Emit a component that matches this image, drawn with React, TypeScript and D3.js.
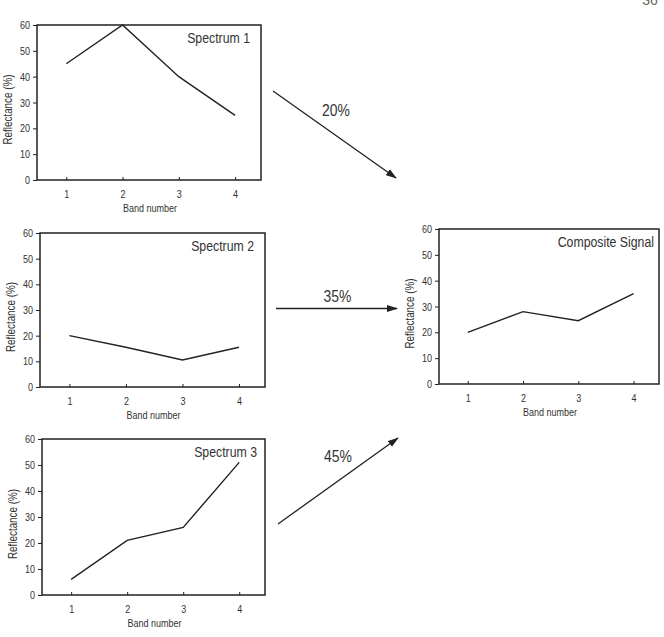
import React, { useEffect, useRef } from "react";
import * as d3 from "d3";

const bands = [1, 2, 3, 4];
const spectrum1 = [45, 60, 40, 25];
const spectrum2 = [20, 15.5, 10.5, 15.5];
const spectrum3 = [6, 21, 26, 51];
const composite = [20, 28, 24.5, 35];
const yTicks = [0, 10, 20, 30, 40, 50, 60];
const weightLabels = ["20%", "35%", "45%"];

const FONT = "'Liberation Sans', Arial, sans-serif";
const NARROW = 0.82; // squeeze Arial into an Arial Narrow look
const INK = "#222";

type Panel = {
  title: string;
  values: number[];
  box: { x0: number; x1: number; y0: number; y1: number };
  titlePad: number;
};

const panels: Panel[] = [
  { title: "Spectrum 1", values: spectrum1, box: { x0: 37, x1: 261, y0: 25, y1: 180 }, titlePad: 11 },
  { title: "Spectrum 2", values: spectrum2, box: { x0: 40, x1: 265, y0: 233, y1: 387 }, titlePad: 11 },
  { title: "Spectrum 3", values: spectrum3, box: { x0: 42, x1: 265, y0: 439, y1: 595 }, titlePad: 8 },
  { title: "Composite Signal", values: composite, box: { x0: 439, x1: 659, y0: 229, y1: 384 }, titlePad: 5 },
];

// arrows from each spectrum into the composite panel
const arrows = [
  { from: [273, 91], to: [396, 178], label: [336, 116] },
  { from: [276, 308.5], to: [397, 308.5], label: [337.5, 302] },
  { from: [278, 524], to: [398, 438], label: [338, 462] },
];

function narrowText(
  g: d3.Selection<SVGGElement, unknown, null, undefined>,
  x: number,
  y: number,
  text: string,
  size: number,
  anchor = "start",
  rotate = 0
) {
  return g
    .append("text")
    .attr("transform", `translate(${x},${y}) rotate(${rotate}) scale(${NARROW},1)`)
    .attr("text-anchor", anchor)
    .attr("font-family", FONT)
    .attr("font-size", size)
    .attr("fill", "#333")
    .text(text);
}

function App() {
  const ref = useRef<SVGSVGElement>(null);

  useEffect(() => {
    const svg = d3.select(ref.current);
    svg.selectAll("*").remove();

    svg
      .append("defs")
      .append("marker")
      .attr("id", "head")
      .attr("markerUnits", "userSpaceOnUse")
      .attr("markerWidth", 11)
      .attr("markerHeight", 8)
      .attr("refX", 10)
      .attr("refY", 4)
      .attr("orient", "auto")
      .append("path")
      .attr("d", "M0,0.5 L11,4 L0,7.5 Z")
      .attr("fill", INK);

    const root = svg.append("g") as unknown as d3.Selection<SVGGElement, unknown, null, undefined>;

    panels.forEach((p) => {
      const { x0, x1, y0, y1 } = p.box;
      const x = d3.scaleLinear().domain([0.48, 4.46]).range([x0, x1]);
      const y = d3.scaleLinear().domain([0, 60]).range([y1, y0]);
      const g = root.append("g");

      // left axis with outside ticks
      const ya = g
        .append("g")
        .attr("transform", `translate(${x0},0)`)
        .call(d3.axisLeft(y).tickValues(yTicks).tickSizeInner(4).tickSizeOuter(0).tickFormat(d3.format("d")));
      ya.select(".domain").remove();
      ya.selectAll("line").attr("stroke", INK);
      ya.selectAll("text")
        .attr("x", null)
        .attr("transform", `translate(-7,0) scale(${NARROW},1)`)
        .attr("font-family", FONT)
        .attr("font-size", 11)
        .attr("fill", "#333");

      // bottom axis with small inward ticks
      const xa = g
        .append("g")
        .attr("transform", `translate(0,${y1})`)
        .call(d3.axisBottom(x).tickValues(bands).tickSizeInner(-3).tickSizeOuter(0).tickPadding(10).tickFormat(d3.format("d")));
      xa.select(".domain").remove();
      xa.selectAll("line").attr("stroke", INK);
      xa.selectAll("text")
        .attr("transform", `scale(${NARROW},1)`)
        .attr("x", function (d) {
          return 0;
        })
        .attr("font-family", FONT)
        .attr("font-size", 11)
        .attr("fill", "#333");

      // frame
      g.append("rect")
        .attr("x", x0)
        .attr("y", y0)
        .attr("width", x1 - x0)
        .attr("height", y1 - y0)
        .attr("fill", "none")
        .attr("stroke", INK)
        .attr("stroke-width", 1.5);

      // spectrum line
      const line = d3
        .line<number>()
        .x((_, i) => x(bands[i]))
        .y((v) => y(v));
      g.append("path")
        .attr("d", line(p.values))
        .attr("fill", "none")
        .attr("stroke", INK)
        .attr("stroke-width", 1.4)
        .attr("stroke-linejoin", "miter");

      narrowText(g, x1 - p.titlePad, y0 + 17.5, p.title, 15, "end");
      narrowText(g, (x0 + x1) / 2 + 1, y1 + 32, "Band number", 11, "middle");
      narrowText(g, x0 - 25, (y0 + y1) / 2 + 7, "Reflectance (%)", 12, "middle", -90);
    });

    arrows.forEach((a, i) => {
      root
        .append("line")
        .attr("x1", a.from[0])
        .attr("y1", a.from[1])
        .attr("x2", a.to[0])
        .attr("y2", a.to[1])
        .attr("stroke", INK)
        .attr("stroke-width", 1.3)
        .attr("marker-end", "url(#head)");
      narrowText(root, a.label[0], a.label[1], weightLabels[i], 17, "middle");
    });

    // page number, clipped at the top edge
    root
      .append("text")
      .attr("x", 650)
      .attr("y", 5)
      .attr("text-anchor", "middle")
      .attr("font-family", FONT)
      .attr("font-size", 14)
      .attr("fill", "#666")
      .text("36");
  }, []);

  return (
    <svg
      ref={ref}
      width={664}
      height={637}
      style={{ position: "absolute", left: 0, top: 0, background: "#fff" }}
    />
  );
}

export default App;
